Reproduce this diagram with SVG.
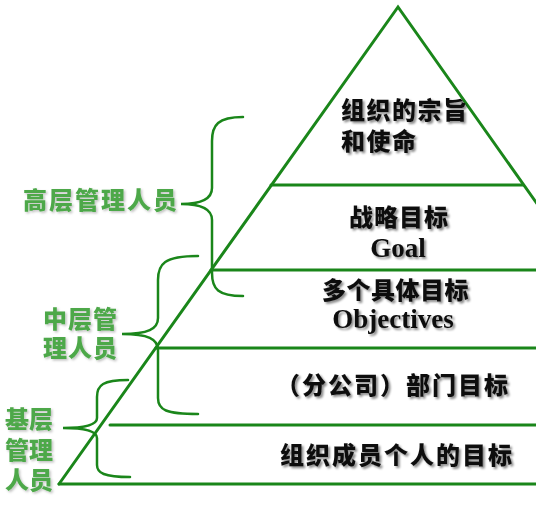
<svg xmlns="http://www.w3.org/2000/svg" width="536" height="509" viewBox="0 0 536 509">
<defs>
<filter id="sh" x="-10%" y="-30%" width="130%" height="170%">
<feDropShadow dx="2" dy="2" stdDeviation="1" flood-color="#000" flood-opacity="0.45"/>
</filter>
<filter id="shg" x="-10%" y="-30%" width="130%" height="170%">
<feDropShadow dx="1.5" dy="1.5" stdDeviation="1" flood-color="#000" flood-opacity="0.25"/>
</filter>
</defs>
<style>
.ln{fill:none;stroke:#1a861a;stroke-width:3;stroke-linecap:round;stroke-linejoin:miter}
.br{fill:none;stroke:#1a861a;stroke-width:2.5;stroke-linecap:round}
.cj{font-family:"Noto Sans CJK SC","Noto Sans",sans-serif;font-weight:900;font-size:24px;fill:#111;filter:url(#sh)}
.en{font-family:"Liberation Serif","Times New Roman",serif;font-weight:bold;font-size:27px;fill:#111;text-anchor:middle;filter:url(#sh)}
.gr{font-family:"Noto Sans CJK SC","Noto Sans",sans-serif;font-weight:900;font-size:24px;fill:#4ea84a;filter:url(#shg)}
</style>
<rect width="536" height="509" fill="#fff"/>
<g id="connectors">
<path class="ln" d="M59,484 L398,7 L545,215"/>
<path class="ln" d="M59,484 L536,484"/>
<path class="ln" d="M271,185 L523,185"/>
<path class="ln" d="M211,270 L536,270"/>
<path class="ln" d="M156,348 L536,348"/>
<path class="ln" d="M110,425 L536,425"/>
<path class="br" d="M243,117 C218,117 212,125 212,141 L212,188 C212,199 202,204 181,204 C202,204 212,209 212,220 L212,273 C212,289 218,296 243,296"/>
<path class="br" d="M198,256 C164,256 158,264 158,280 L158,318 C158,329 148,334 122,334 C148,334 158,339 158,350 L158,398 C158,410 166,414 198,414"/>
<path class="br" d="M128,380 C103,380 97,385 97,397 L97,418 C97,425 86,428 63,428 C86,428 97,431 97,438 L97,465 C97,473 104,477 130,477"/>
</g>
<g id="level1">
<text class="cj" x="341" y="119" letter-spacing="1.5">组织的宗旨</text>
<text class="cj" x="341" y="150" letter-spacing="1.5">和使命</text>
</g>
<g id="level2">
<text class="cj" x="349" y="226" letter-spacing="1">战略目标</text>
<text class="en" x="398" y="257">Goal</text>
</g>
<g id="level3">
<text class="cj" x="322" y="299" letter-spacing="0.5">多个具体目标</text>
<text class="en" x="393" y="328">Objectives</text>
</g>
<g id="level4">
<text class="cj" x="276" y="394" letter-spacing="2">（分公司）部门目标</text>
</g>
<g id="level5">
<text class="cj" x="280" y="464" letter-spacing="2">组织成员个人的目标</text>
</g>
<g id="label-top">
<text class="gr" x="23" y="209" letter-spacing="2">高层管理人员</text>
</g>
<g id="label-mid">
<text class="gr" x="43" y="328" letter-spacing="1">中层管</text>
<text class="gr" x="43" y="357" letter-spacing="1">理人员</text>
</g>
<g id="label-base">
<text class="gr" x="5" y="428">基层</text>
<text class="gr" x="5" y="459">管理</text>
<text class="gr" x="5" y="489">人员</text>
</g>
</svg>
